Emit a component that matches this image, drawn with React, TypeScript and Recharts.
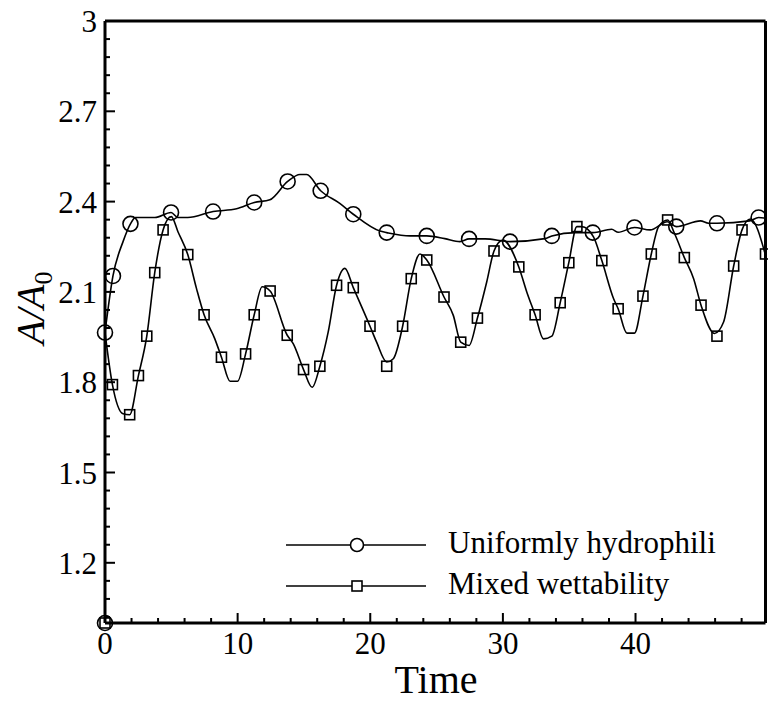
import React from "react";
import {
  ComposedChart,
  Line,
  Scatter,
  XAxis,
  YAxis,
  Customized,
} from "recharts";

// Uniformly hydrophilic: curve vertices
const uniformT = [
  0, 0.6, 1.36, 1.92, 2.3, 3.76, 4.98, 5.5, 6.24, 8.15, 9.92, 11.25, 12.43,
  13.77, 14.7, 15.2, 16.26, 17.7, 18.72, 20.73, 21.24, 23.0, 24.26, 25.62,
  26.76, 27.45, 28.66, 30.54, 33.17, 33.69, 35.5, 36.78, 38.2, 38.7, 39.92,
  41.1, 42.4, 43.07, 44.9, 45.5, 46.14, 48.6, 49.28, 49.8,
];
const uniformA = [
  1.965, 2.153, 2.267, 2.326, 2.347, 2.347, 2.364, 2.347, 2.347, 2.367, 2.376,
  2.397, 2.406, 2.467, 2.49, 2.49, 2.436, 2.394, 2.358, 2.302, 2.297, 2.286,
  2.286, 2.277, 2.267, 2.276, 2.276, 2.267, 2.277, 2.286, 2.297, 2.297, 2.308,
  2.298, 2.314, 2.306, 2.333, 2.317, 2.336, 2.328, 2.328, 2.336, 2.347, 2.345,
];
// Uniformly hydrophilic: circle markers
const uniformMarkT = [
  0, 0, 0.6, 1.92, 4.98, 8.15, 11.25, 13.77, 16.26, 18.72, 21.24, 24.26, 27.45,
  30.54, 33.69, 36.78, 39.92, 43.07, 46.14, 49.28,
];
const uniformMarkA = [
  1.0, 1.965, 2.153, 2.326, 2.364, 2.367, 2.397, 2.467, 2.436, 2.358, 2.297,
  2.286, 2.276, 2.267, 2.286, 2.297, 2.314, 2.317, 2.328, 2.347,
];

// Mixed wettability: curve vertices
const mixedT = [
  0, 0.56, 1.36, 1.86, 2.52, 3.15, 3.75, 4.38, 5.0, 5.5, 6.24, 6.9, 7.47, 8.28,
  8.78, 9.43, 9.99, 10.6, 11.25, 11.85, 12.45, 13.74, 14.19, 14.97, 15.62,
  16.2, 16.83, 17.46, 18.09, 18.72, 19.98, 20.48, 21.24, 21.74, 22.44, 23.09,
  23.75, 24.26, 25.56, 26.26, 26.82, 27.45, 28.08, 28.78, 29.33, 29.99, 31.2,
  31.8, 32.43, 33.06, 33.69, 34.32, 34.97, 35.58, 35.95, 36.83, 37.46, 38.34,
  38.69, 39.35, 39.92, 40.56, 41.19, 41.74, 42.42, 42.94, 43.68, 44.38, 44.94,
  45.95, 46.64, 47.4, 48.03, 48.66, 49.8,
];
const mixedA = [
  1.965, 1.792, 1.695, 1.692, 1.822, 1.953, 2.164, 2.306, 2.35, 2.3, 2.224,
  2.111, 2.024, 1.944, 1.883, 1.803, 1.803, 1.894, 2.024, 2.117, 2.103, 1.956,
  1.928, 1.842, 1.783, 1.853, 1.967, 2.122, 2.178, 2.114, 1.986, 1.933, 1.867,
  1.878, 1.986, 2.144, 2.226, 2.206, 2.083, 2.022, 1.933, 1.922, 2.013, 2.133,
  2.236, 2.272, 2.183, 2.1, 2.024, 1.944, 1.953, 2.064, 2.197, 2.317, 2.317,
  2.283, 2.204, 2.078, 2.044, 1.963, 1.963, 2.086, 2.226, 2.317, 2.339, 2.294,
  2.214, 2.144, 2.056, 1.962, 2.0, 2.186, 2.306, 2.342, 2.222,
];
// Mixed wettability: square markers
const mixedMarkT = [
  0, 0.56, 1.86, 2.52, 3.15, 3.75, 4.38, 6.24, 7.47, 8.78, 10.6, 11.25, 12.45,
  13.74, 14.97, 16.2, 17.46, 18.72, 19.98, 21.24, 22.44, 23.09, 24.26, 25.56,
  26.82, 28.08, 29.33, 31.2, 32.43, 34.32, 34.97, 35.58, 37.46, 38.69, 40.56,
  41.19, 42.42, 43.68, 44.94, 46.14, 47.4, 48.03, 49.8,
];
const mixedMarkA = [
  1.0, 1.792, 1.692, 1.822, 1.953, 2.164, 2.306, 2.224, 2.024, 1.883, 1.894,
  2.024, 2.103, 1.956, 1.842, 1.853, 2.122, 2.114, 1.986, 1.853, 1.986, 2.144,
  2.206, 2.083, 1.933, 2.013, 2.236, 2.183, 2.024, 2.064, 2.197, 2.317, 2.204,
  2.044, 2.086, 2.226, 2.339, 2.214, 2.056, 1.953, 2.186, 2.306, 2.226,
];

const xLabels = [0, 10, 20, 30, 40];
const xMinorStep = 2;
const yLabels = [3, 2.7, 2.4, 2.1, 1.8, 1.5, 1.2];
const yMinorStep = 0.06;

const seriesNames = ["Uniformly hydrophili", "Mixed wettability"];

const zip = (xs: number[], ys: number[]) => xs.map((x, i) => ({ x, y: ys[i] }));
const uniformLine = zip(uniformT, uniformA);
const uniformMarks = zip(uniformMarkT, uniformMarkA);
const mixedLine = zip(mixedT, mixedA);
const mixedMarks = zip(mixedMarkT, mixedMarkA);

const xTicks: number[] = [];
for (let v = 0; v <= 48; v += xMinorStep) xTicks.push(v);
const yTicks: number[] = [];
for (let k = 0; k <= 33; k++) yTicks.push(Number((3 - yMinorStep * k).toFixed(2)));

const FONT = "'Liberation Serif', 'Times New Roman', serif";

const isMajor = (v: number, labels: number[]) =>
  labels.some((l) => Math.abs(l - v) < 1e-6);

// plot box edges (px)
const LEFT = 105;
const BOTTOM = 623;

const YTick = (props: any) => {
  const { y, payload } = props;
  const major = isMajor(payload.value, yLabels);
  return (
    <g>
      <line x1={LEFT} x2={LEFT + (major ? 10 : 5)} y1={y} y2={y} stroke="#000" strokeWidth={2} />
      {major && (
        <text x={LEFT - 8} y={y + 11} textAnchor="end" fontFamily={FONT} fontSize={31} fill="#000">
          {String(payload.value)}
        </text>
      )}
    </g>
  );
};

const XTick = (props: any) => {
  const { x, payload } = props;
  const major = isMajor(payload.value, xLabels);
  return (
    <g>
      <line x1={x} x2={x} y1={BOTTOM} y2={BOTTOM - (major ? 10 : 5)} stroke="#000" strokeWidth={2} />
      {major && (
        <text x={x} y={BOTTOM + 31} textAnchor="middle" fontFamily={FONT} fontSize={31} fill="#000">
          {String(payload.value)}
        </text>
      )}
    </g>
  );
};

const CircleMark = (props: any) => (
  <circle cx={props.cx} cy={props.cy} r={7.5} fill="none" stroke="#000" strokeWidth={1.6} />
);
const SquareMark = (props: any) => (
  <rect
    x={props.cx - 5}
    y={props.cy - 5}
    width={10}
    height={10}
    fill="none"
    stroke="#000"
    strokeWidth={1.6}
  />
);

const Titles = () => (
  <g fontFamily={FONT} fill="#000">
    <text x={436} y={693} textAnchor="middle" fontSize={40}>
      Time
    </text>
    <text transform="translate(44,308) rotate(-90)" textAnchor="middle" fontSize={40}>
      <tspan fontStyle="italic">A/A</tspan>
      <tspan fontSize={26} dy={8}>
        0
      </tspan>
    </text>
    {/* legend */}
    <line x1={286} x2={426} y1={545} y2={545} stroke="#000" strokeWidth={1.6} />
    <circle cx={357} cy={545} r={6.5} fill="#fff" stroke="#000" strokeWidth={1.6} />
    <text x={448} y={553} fontSize={31}>
      {seriesNames[0]}
    </text>
    <line x1={286} x2={426} y1={586} y2={586} stroke="#000" strokeWidth={1.6} />
    <rect x={352} y={581} width={10} height={10} fill="#fff" stroke="#000" strokeWidth={1.6} />
    <text x={448} y={594} fontSize={31}>
      {seriesNames[1]}
    </text>
  </g>
);

export default function App() {
  return (
    <div style={{ position: "absolute", left: 0, top: 0, background: "#fff" }}>
      <ComposedChart
        width={768}
        height={702}
        margin={{ top: 11, right: 0, left: 45, bottom: 39 }}
      >
        <XAxis
          type="number"
          dataKey="x"
          domain={[0, 49.8]}
          ticks={xTicks}
          height={40}
          tickLine={false}
          axisLine={{ stroke: "#000", strokeWidth: 3 }}
          tick={<XTick />}
          interval={0}
        />
        <XAxis
          xAxisId="top"
          orientation="top"
          type="number"
          domain={[0, 49.8]}
          height={10}
          tick={false}
          tickLine={false}
          axisLine={{ stroke: "#000", strokeWidth: 3 }}
        />
        <YAxis
          type="number"
          domain={[1, 3]}
          ticks={yTicks}
          width={60}
          tickLine={false}
          axisLine={{ stroke: "#000", strokeWidth: 3 }}
          tick={<YTick />}
          interval={0}
        />
        <YAxis
          yAxisId="right"
          orientation="right"
          type="number"
          domain={[1, 3]}
          width={2.5}
          tick={false}
          tickLine={false}
          axisLine={{ stroke: "#000", strokeWidth: 3 }}
        />
        <Line
          data={uniformLine}
          dataKey="y"
          type="monotone"
          stroke="#000"
          strokeWidth={1.6}
          dot={false}
          activeDot={false}
          isAnimationActive={false}
        />
        <Line
          data={mixedLine}
          dataKey="y"
          type="monotone"
          stroke="#000"
          strokeWidth={1.6}
          dot={false}
          activeDot={false}
          isAnimationActive={false}
        />
        <Scatter data={uniformMarks} dataKey="y" shape={<CircleMark />} isAnimationActive={false} />
        <Scatter data={mixedMarks} dataKey="y" shape={<SquareMark />} isAnimationActive={false} />
        <Customized component={<Titles />} />
      </ComposedChart>
    </div>
  );
}
